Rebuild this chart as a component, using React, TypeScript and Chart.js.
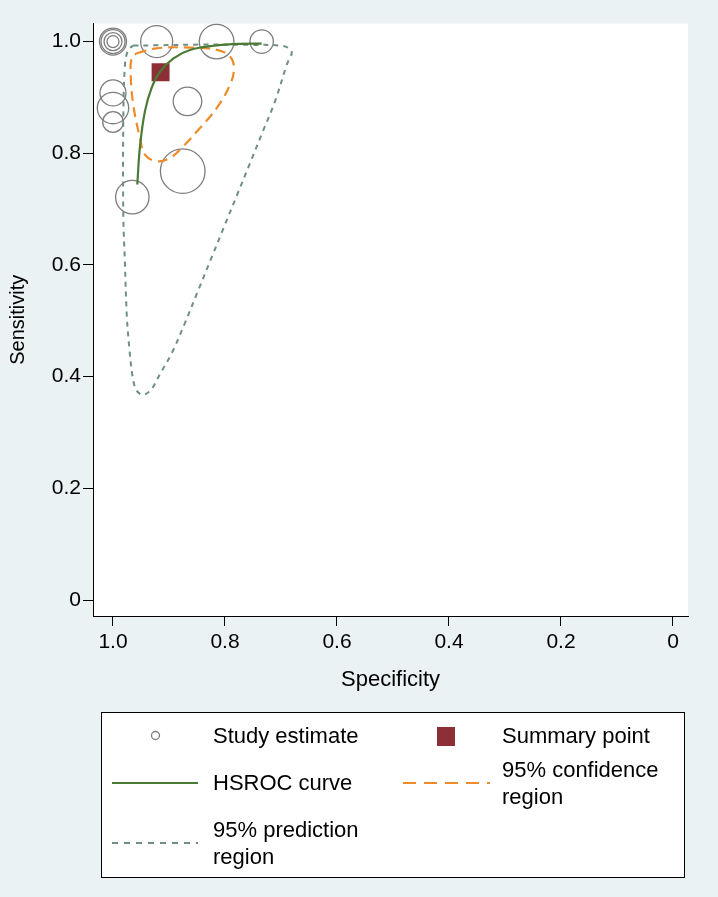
import React, { useEffect, useRef } from "react";
import { Chart, registerables } from "chart.js";

Chart.register(...registerables);

// ---- Data ----
const studySpecificity = [1.0, 1.0, 1.0, 1.0, 0.922, 0.815, 0.7345, 1.0, 1.0, 1.0, 0.867, 0.8755, 0.9655];
const studySensitivity = [1.0, 1.0, 1.0, 1.0, 1.0, 1.0, 1.0, 0.908, 0.881, 0.856, 0.893, 0.768, 0.7214];
const studyWeight = [13.5, 12, 9, 6, 16, 17.3, 11.7, 13, 15.7, 10.3, 14.3, 22.3, 16.7];

const summarySpecificity = [0.915];
const summarySensitivity = [0.945];

const hsrocSpecificity = [0.9566, 0.952, 0.943, 0.931, 0.916, 0.892, 0.8625, 0.815, 0.773, 0.7345];
const hsrocSensitivity = [0.744, 0.81, 0.875, 0.917, 0.946, 0.97, 0.985, 0.993, 0.996, 0.9964];

const confSpecificity = [0.9577, 0.922, 0.8625, 0.8148, 0.7911, 0.784, 0.7911, 0.8148, 0.8446, 0.8745, 0.8982, 0.922, 0.9429, 0.9518, 0.9638, 0.9684, 0.9666, 0.9577];
const confSensitivity = [0.9791, 0.988, 0.9893, 0.9852, 0.9732, 0.9523, 0.9227, 0.8809, 0.8452, 0.8125, 0.7916, 0.7857, 0.7977, 0.8273, 0.887, 0.9405, 0.9702, 0.9791];

const predSpecificity = [0.9637, 0.922, 0.8446, 0.7554, 0.6964, 0.6809, 0.6898, 0.7107, 0.7339, 0.7554, 0.7786, 0.8018, 0.825, 0.8482, 0.8714, 0.8946, 0.9161, 0.9309, 0.9459, 0.9577, 0.9648, 0.9709, 0.9755, 0.9786, 0.9816, 0.9816, 0.9786, 0.9727, 0.9637];
const predSensitivity = [0.9929, 0.9934, 0.9946, 0.9941, 0.992, 0.9821, 0.9584, 0.8929, 0.8357, 0.7821, 0.725, 0.6679, 0.6107, 0.5536, 0.4964, 0.4429, 0.4048, 0.378, 0.3673, 0.375, 0.3988, 0.4523, 0.512, 0.6013, 0.6905, 0.8571, 0.9584, 0.9852, 0.9929];

const tickValues = [1.0, 0.8, 0.6, 0.4, 0.2, 0];
const xTitle = "Specificity";
const yTitle = "Sensitivity";
const legendLabels = ["Study estimate", "Summary point", "HSROC curve", "95% confidence region", "95% prediction region"];

// ---- Styles ----
const BG = "#eaf2f3";
const FONT = '"Liberation Sans", Arial, Helvetica, sans-serif';
const CIRCLE = "#7d7d7d";
const GREEN = "#4a7a34";
const ORANGE = "#ee8c2c";
const PRED = "#6e8f82";
const MAROON = "#8c2f36";

const pts = (xs: number[], ys: number[]) => xs.map((x, i) => ({ x, y: ys[i] }));
const fmt = (v: number) => (v === 0 ? "0" : v.toFixed(1));

const bgPlugin = {
  id: "bgPlugin",
  beforeDraw(chart: any) {
    const { ctx, chartArea, width, height } = chart;
    ctx.save();
    ctx.fillStyle = BG;
    ctx.fillRect(0, 0, width, height);
    ctx.fillStyle = "#ffffff";
    ctx.fillRect(chartArea.left, chartArea.top, chartArea.right - chartArea.left, chartArea.bottom - chartArea.top);
    ctx.restore();
  },
};

const legendPlugin = {
  id: "customLegend",
  afterDraw(chart: any) {
    const ctx = chart.ctx;
    ctx.save();
    const bx = 101.5, by = 712.5, bw = 583, bh = 165;
    ctx.fillStyle = "#ffffff";
    ctx.fillRect(bx, by, bw, bh);
    ctx.strokeStyle = "#000";
    ctx.lineWidth = 1;
    ctx.strokeRect(bx, by, bw, bh);

    ctx.font = `22px ${FONT}`;
    ctx.fillStyle = "#000";
    ctx.textBaseline = "middle";
    ctx.textAlign = "left";

    // Study estimate
    ctx.beginPath();
    ctx.arc(155.5, 735.5, 4, 0, Math.PI * 2);
    ctx.strokeStyle = CIRCLE;
    ctx.lineWidth = 1.3;
    ctx.stroke();
    ctx.fillText(legendLabels[0], 213, 737);

    // Summary point
    ctx.fillStyle = MAROON;
    ctx.fillRect(437, 727, 18, 19);
    ctx.fillStyle = "#000";
    ctx.fillText(legendLabels[1], 502, 737);

    // HSROC
    ctx.beginPath();
    ctx.moveTo(112, 783);
    ctx.lineTo(198, 783);
    ctx.strokeStyle = GREEN;
    ctx.lineWidth = 2;
    ctx.setLineDash([]);
    ctx.stroke();
    ctx.fillText(legendLabels[2], 213, 784);

    // Confidence
    ctx.beginPath();
    ctx.moveTo(403, 783);
    ctx.lineTo(490, 783);
    ctx.strokeStyle = ORANGE;
    ctx.lineWidth = 2;
    ctx.setLineDash([13, 8]);
    ctx.stroke();
    ctx.setLineDash([]);
    const conf = legendLabels[3].split(" ");
    ctx.fillText(conf.slice(0, 2).join(" "), 502, 771);
    ctx.fillText(conf.slice(2).join(" "), 502, 798);

    // Prediction
    ctx.beginPath();
    ctx.moveTo(112, 843);
    ctx.lineTo(198, 843);
    ctx.strokeStyle = PRED;
    ctx.lineWidth = 2;
    ctx.setLineDash([6, 6]);
    ctx.stroke();
    ctx.setLineDash([]);
    const pred = legendLabels[4].split(" ");
    ctx.fillText(pred.slice(0, 2).join(" "), 213, 831);
    ctx.fillText(pred.slice(2).join(" "), 213, 858);

    ctx.restore();
  },
};

export default function App() {
  const ref = useRef<HTMLCanvasElement | null>(null);

  useEffect(() => {
    document.body.style.margin = "0";
    document.body.style.background = BG;
    if (!ref.current) return;
    const chart = new Chart(ref.current, {
      type: "scatter",
      data: {
        datasets: [
          {
            type: "line",
            label: legendLabels[2],
            data: pts(hsrocSpecificity, hsrocSensitivity),
            borderColor: GREEN,
            borderWidth: 2.2,
            pointRadius: 0,
            tension: 0.4,
            fill: false,
            order: 0,
          } as any,
          {
            type: "scatter",
            label: legendLabels[1],
            data: pts(summarySpecificity, summarySensitivity),
            pointStyle: "rect",
            pointRadius: 12.7,
            backgroundColor: MAROON,
            borderColor: MAROON,
            borderWidth: 0,
            order: 1,
          } as any,
          {
            type: "line",
            label: legendLabels[3],
            data: pts(confSpecificity, confSensitivity),
            borderColor: ORANGE,
            borderWidth: 2.2,
            borderDash: [10, 6],
            pointRadius: 0,
            tension: 0.4,
            fill: false,
            order: 2,
          } as any,
          {
            type: "line",
            label: legendLabels[4],
            data: pts(predSpecificity, predSensitivity),
            borderColor: PRED,
            borderWidth: 2,
            borderDash: [5, 5],
            pointRadius: 0,
            tension: 0.35,
            fill: false,
            order: 3,
          } as any,
          {
            type: "bubble",
            label: legendLabels[0],
            data: studySpecificity.map((x, i) => ({ x, y: studySensitivity[i], r: studyWeight[i] })),
            backgroundColor: "rgba(0,0,0,0)",
            borderColor: CIRCLE,
            borderWidth: 1.3,
            hoverBorderWidth: 1.3,
            clip: false,
            order: 4,
          } as any,
        ],
      },
      options: {
        responsive: false,
        animation: false,
        events: [],
        layout: { padding: { left: 0, top: 23, right: 30, bottom: 197 } },
        plugins: {
          legend: { display: false },
          tooltip: { enabled: false },
          title: { display: false },
        },
        scales: {
          x: {
            type: "linear",
            reverse: true,
            min: -0.0268,
            max: 1.0357,
            afterBuildTicks: (scale: any) => {
              scale.ticks = tickValues.map((v) => ({ value: v }));
            },
            afterFit: (scale: any) => {
              scale.height = 84;
            },
            ticks: {
              callback: (v: any) => fmt(Number(v)),
              color: "#000",
              font: { family: FONT, size: 21 },
              padding: 4,
              maxRotation: 0,
              autoSkip: false,
            },
            grid: { display: true, drawOnChartArea: false, drawTicks: true, tickLength: 10, color: "#000", lineWidth: 1 },
            border: { display: true, color: "#000", width: 1 },
            title: {
              display: true,
              text: xTitle,
              color: "#000",
              font: { family: FONT, size: 22 },
              padding: { top: 0, bottom: 7 },
            },
          },
          y: {
            type: "linear",
            min: -0.0286,
            max: 1.0322,
            afterBuildTicks: (scale: any) => {
              scale.ticks = tickValues.map((v) => ({ value: v }));
            },
            afterFit: (scale: any) => {
              scale.width = 93;
            },
            ticks: {
              callback: (v: any) => fmt(Number(v)),
              color: "#000",
              font: { family: FONT, size: 21 },
              padding: 2,
              autoSkip: false,
            },
            grid: { display: true, drawOnChartArea: false, drawTicks: true, tickLength: 10, color: "#000", lineWidth: 1 },
            border: { display: true, color: "#000", width: 1 },
            title: {
              display: true,
              text: yTitle,
              color: "#000",
              font: { family: FONT, size: 20 },
              padding: { top: 6, bottom: 0 },
            },
          },
        },
      },
      plugins: [bgPlugin, legendPlugin],
    } as any);
    return () => chart.destroy();
  }, []);

  return (
    <div style={{ width: 718, height: 897, background: BG }}>
      <canvas ref={ref} width={718} height={897} style={{ width: 718, height: 897, display: "block" }} />
    </div>
  );
}
